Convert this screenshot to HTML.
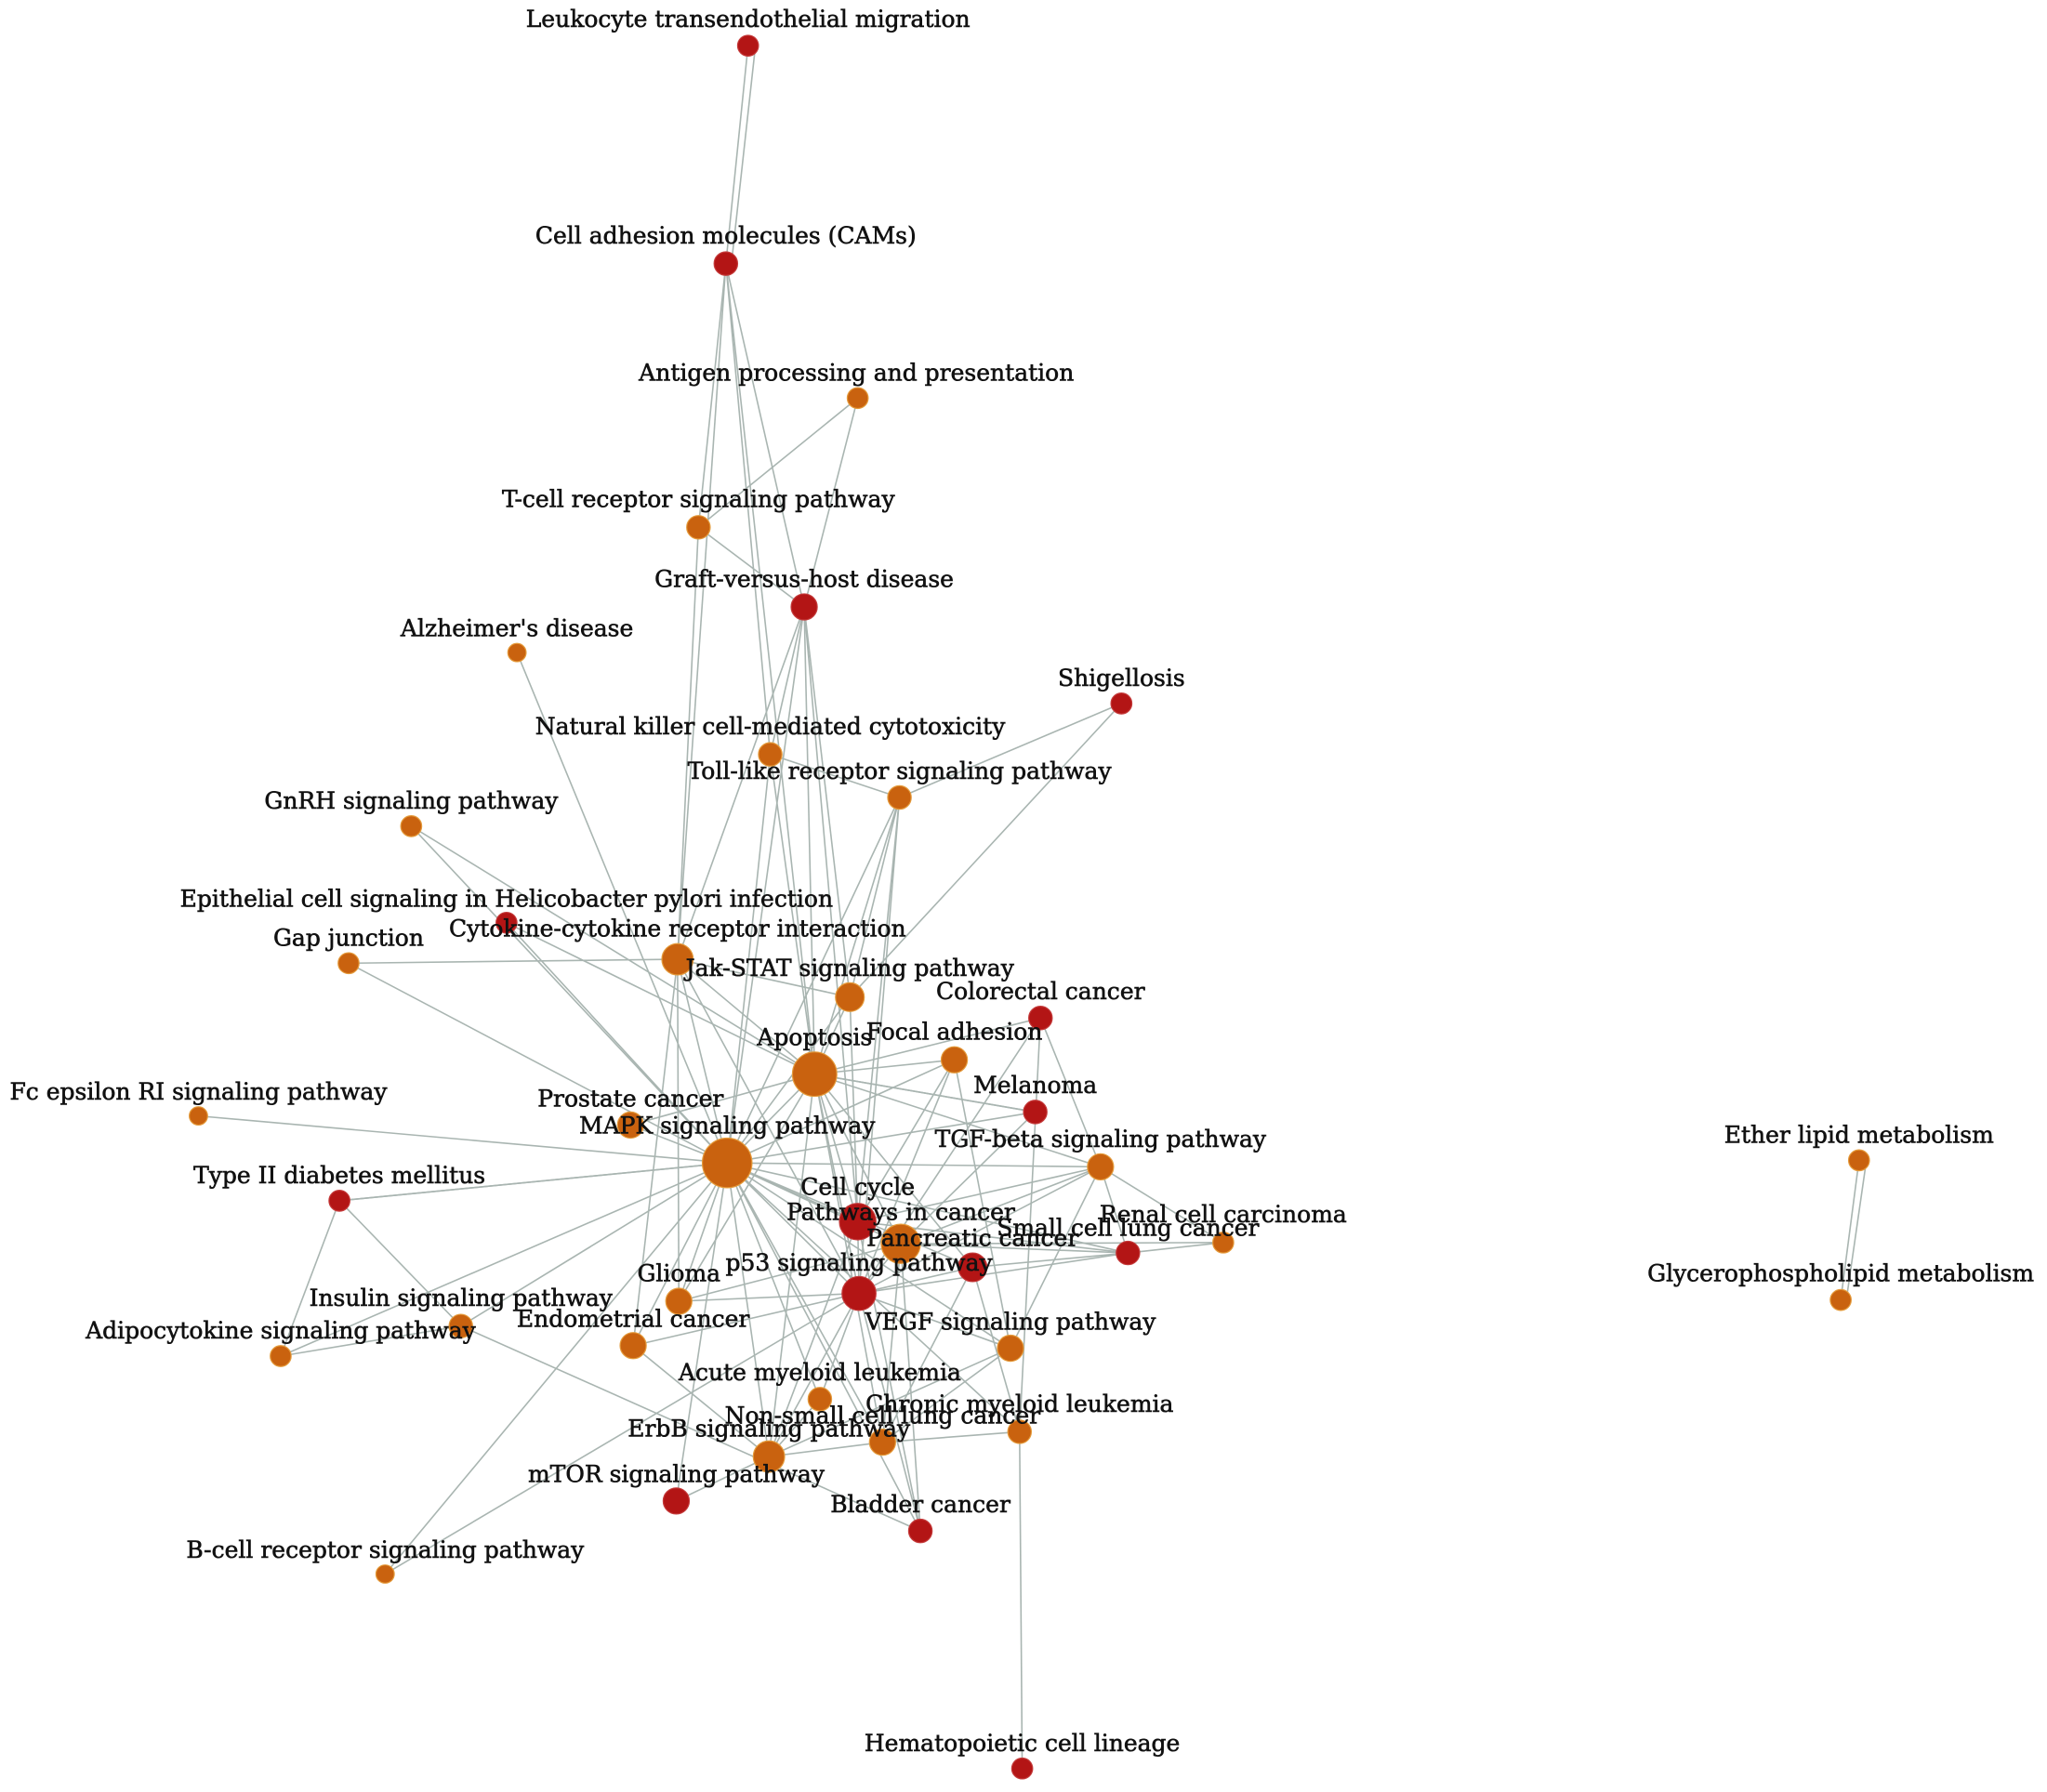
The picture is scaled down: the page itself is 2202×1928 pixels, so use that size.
<!DOCTYPE html>
<html><head><meta charset="utf-8"><title>KEGG pathway network</title>
<style>
html,body{margin:0;padding:0;background:#fff;}
svg{display:block;}
text{font-family:"DejaVu Serif","Liberation Serif",serif;font-size:25px;fill:#111;stroke:#111;stroke-width:0.6px;}
</style></head>
<body>
<svg id="chart" width="2202" height="1928" viewBox="0 0 2202 1928" xmlns="http://www.w3.org/2000/svg">
<rect width="2202" height="1928" fill="#fff"/>
<g id="edges"></g>
<g id="nodes"></g>
<g id="labels"></g>
</svg>
<script>
const nodeNames = ["Leukocyte transendothelial migration","Cell adhesion molecules (CAMs)","Antigen processing and presentation","T-cell receptor signaling pathway","Graft-versus-host disease","Alzheimer's disease","Shigellosis","Natural killer cell-mediated cytotoxicity","Toll-like receptor signaling pathway","GnRH signaling pathway","Epithelial cell signaling in Helicobacter pylori infection","Gap junction","Cytokine-cytokine receptor interaction","Jak-STAT signaling pathway","Colorectal cancer","Focal adhesion","Apoptosis","Fc epsilon RI signaling pathway","Melanoma","Prostate cancer","MAPK signaling pathway","TGF-beta signaling pathway","Type II diabetes mellitus","Cell cycle","Pathways in cancer","Small cell lung cancer","Renal cell carcinoma","Pancreatic cancer","p53 signaling pathway","Glioma","Insulin signaling pathway","Adipocytokine signaling pathway","Endometrial cancer","VEGF signaling pathway","Acute myeloid leukemia","Chronic myeloid leukemia","Non-small cell lung cancer","ErbB signaling pathway","mTOR signaling pathway","Bladder cancer","B-cell receptor signaling pathway","Hematopoietic cell lineage","Ether lipid metabolism","Glycerophospholipid metabolism"];
const nodeX = [573,556,657,535,616,396,859,590,689,315,388,267,519,651,797,731,624,152,793,483,557,843,260,657,690,864,937,745,658,520,353,215,485,774,628,781,676,589,518,705,295,783,1424,1410];
const nodeY = [35,202,305,404,465,500,539,578,611,633,707,738,735,764,780,812,823,855,852,862,891,894,920,936,953,960,952,971,991,997,1016,1039,1031,1033,1072,1097,1105,1116,1150,1173,1206,1355,889,996];
const nodeSize = [8,9,8,9,10,7,8,9,9,8,8,8,12,11,9,10,17,7,9,10,19,10,8,14,15,9,8,11,13,10,9,8,10,10,9,9,10,12,10,9,7,8,8,8];
const nodeGroup = [1,1,0,0,1,0,1,0,0,0,1,0,0,0,1,0,0,0,1,0,0,0,1,1,0,1,0,1,1,0,0,0,0,0,0,0,0,0,1,1,0,1,0,0];
const labelX = [573,556,656,535,616,396,859,590,689,315,388,267,519,651,797,731,624,152,793,483,557,843,260,657,690,864,937,745,658,520,353,215,485,774,628,781,676,589,518,705,295,783,1424,1410];
const labelY = [16,182,287,384,445,483,521,558,592,615,690,720,713,743,761,792,796,838,833,843,864,874,902,911,930,942,932,950,969,977,996,1021,1012,1014,1053,1077,1086,1096,1131,1154,1189,1337,871,977];
const edgeFrom = [0,1,1,1,1,1,2,2,3,3,4,4,4,4,4,4,5,6,6,7,7,7,8,8,8,8,8,9,9,10,10,11,11,12,12,12,12,12,12,13,13,13,14,14,14,14,15,15,15,15,15,16,16,16,16,16,16,16,16,16,16,17,18,18,18,19,19,20,20,20,20,20,20,20,20,20,20,20,20,20,20,20,20,20,20,20,21,21,21,21,21,21,22,22,22,23,23,23,23,24,24,24,24,24,24,25,25,25,27,27,27,28,28,28,28,28,28,30,30,33,33,34,36,37,32,35,35,40,42];
const edgeTo   = [1,3,4,12,16,7,3,4,4,12,12,16,20,13,23,7,20,8,13,16,20,8,16,20,23,28,13,20,16,20,16,12,20,20,16,13,29,32,28,16,20,23,21,28,35,16,16,20,23,28,33,20,23,24,28,21,18,27,29,37,36,20,16,20,24,20,16,21,23,24,25,27,28,29,30,31,32,34,36,37,38,39,40,33,35,22,23,24,26,25,28,33,31,20,30,28,25,37,39,26,25,28,39,36,29,26,28,27,28,35,36,29,32,33,37,39,34,31,39,36,37,37,37,38,37,36,41,28,43];
const S = 2202/1568;
function sx(v){return v*S;}
function sy(v){return v*(1928/1373);}
const NS="http://www.w3.org/2000/svg";
const gE=document.getElementById('edges'),gN=document.getElementById('nodes'),gL=document.getElementById('labels');
for(let i=0;i<edgeFrom.length;i++){
  const a=edgeFrom[i],b=edgeTo[i];
  const l=document.createElementNS(NS,'line');
  
  
  l.setAttribute('x1',sx(nodeX[a]));l.setAttribute('y1',sy(nodeY[a]));
  l.setAttribute('x2',sx(nodeX[b]));l.setAttribute('y2',sy(nodeY[b]));
  l.setAttribute('stroke','#a9b5b1');l.setAttribute('stroke-width','1.6');
  gE.appendChild(l);
}
[[0,1],[42,43]].forEach(p=>{
  const a=p[0],b=p[1];
  const x1=sx(nodeX[a])+8,y1=sy(nodeY[a]),x2=sx(nodeX[b])+6,y2=sy(nodeY[b]);
  const pth=document.createElementNS(NS,'path');
  
  
  pth.setAttribute('d',`M${x1},${y1} L${x2},${y2}`);
  pth.setAttribute('stroke','#a9b5b1');pth.setAttribute('stroke-width','1.6');pth.setAttribute('fill','none');
  gE.appendChild(pth);
});
for(let i=0;i<nodeNames.length;i++){
  const c=document.createElementNS(NS,'circle');
  
  
  c.setAttribute('cx',sx(nodeX[i]));c.setAttribute('cy',sy(nodeY[i]));
  c.setAttribute('r',nodeSize[i]*S);
  c.setAttribute('fill',nodeGroup[i]?'#b31515':'#c9620f');
  c.setAttribute('stroke',nodeGroup[i]?'#c43a3a':'#e49a3a');c.setAttribute('stroke-width','1.2');
  gN.appendChild(c);
  const t=document.createElementNS(NS,'text');
  
  
  t.setAttribute('x',sx(labelX[i]));t.setAttribute('y',sy(labelY[i]));
  t.setAttribute('text-anchor','middle');t.setAttribute('dominant-baseline','middle');
  t.textContent=nodeNames[i];
  gL.appendChild(t);
}
</script>
</body></html>
